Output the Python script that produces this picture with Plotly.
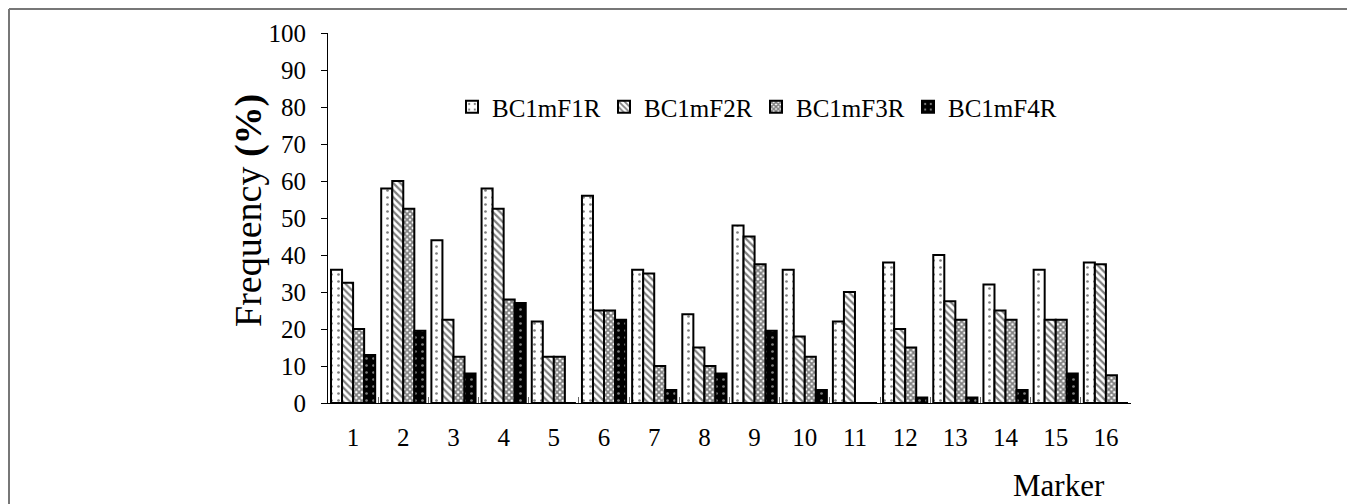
import plotly.graph_objects as go

markers = [str(i) for i in range(1, 17)]
series_names = ["BC1mF1R", "BC1mF2R", "BC1mF3R", "BC1mF4R"]
f1 = [36, 58, 44, 58, 22, 56, 36, 24, 48, 36, 22, 38, 40, 32, 36, 38]
f2 = [32.5, 60, 22.5, 52.5, 12.5, 25, 35, 15, 45, 18, 30, 20, 27.5, 25, 22.5, 37.5]
f3 = [20, 52.5, 12.5, 28, 12.5, 25, 10, 10, 37.5, 12.5, 0, 15, 22.5, 22.5, 22.5, 7.5]
f4 = [13, 19.5, 8, 27, 0, 22.5, 3.5, 8, 19.5, 3.5, 0, 1.5, 1.5, 3.5, 8, 0]
y_ticks = list(range(0, 101, 10))

patterns = [
    dict(shape=".", bgcolor="white", fgcolor="black", size=7, solidity=0.12),
    dict(shape="\\", bgcolor="white", fgcolor="black", size=5, solidity=0.45),
    dict(shape="x", bgcolor="white", fgcolor="black", size=4, solidity=0.7),
    dict(shape=".", bgcolor="black", fgcolor="white", size=7, solidity=0.12),
]

fig = go.Figure()
for name, vals, pat in zip(series_names, [f1, f2, f3, f4], patterns):
    fig.add_trace(go.Bar(
        x=markers, y=vals, name=name,
        marker=dict(color=pat["bgcolor"], pattern=pat,
                    line=dict(color="black", width=2)),
    ))

OFF = 8  # page body margin
L, R, T, B = 328 - OFF, 1131 - OFF, 33 - OFF, 403 - OFF
W, H = 1355 - OFF, 504 - OFF
pw, ph = R - L, B - T

def px_x(px):
    return (px - OFF - L) / pw

def px_y(py):
    return (B - (py - OFF)) / ph

fig.update_layout(
    width=W, height=H,
    margin=dict(l=L, r=W - R, t=T, b=H - B, autoexpand=False),
    paper_bgcolor="white", plot_bgcolor="white",
    barmode="group", bargap=0.12, bargroupgap=0,
    font=dict(family="Liberation Serif", color="black"),
    showlegend=True,
    legend=dict(orientation="h", x=px_x(452), y=px_y(107), xanchor="left", yanchor="middle",
                font=dict(size=25, family="Liberation Serif"),
                bgcolor="rgba(0,0,0,0)", itemwidth=30, traceorder="normal",
                entrywidth=107, entrywidthmode="pixels"),
    xaxis=dict(type="category", showline=True, linecolor="black", linewidth=1,
               ticks="inside", tickson="boundaries", ticklen=6, tickcolor="#666",
               tickfont=dict(size=25), ticklabelstandoff=12, showgrid=False, zeroline=False),
    yaxis=dict(range=[0, 100], tickvals=y_ticks, showline=True, linecolor="black", linewidth=1,
               ticks="outside", ticklen=6, tickcolor="black", tickfont=dict(size=25),
               ticklabelstandoff=10, showgrid=False, zeroline=False, fixedrange=True),
)

fig.add_annotation(text="Frequency <b>(%)</b>", textangle=-90, xref="paper", yref="paper",
                   x=px_x(248), y=px_y(211), xanchor="center", yanchor="middle",
                   showarrow=False, font=dict(size=38))
fig.add_annotation(text="Marker", xref="paper", yref="paper", x=px_x(1059), y=px_y(485),
                   xanchor="center", yanchor="middle", showarrow=False, font=dict(size=31))

# outer frame lines (top and left)
fig.add_shape(type="line", xref="paper", yref="paper", x0=px_x(9), x1=px_x(1355),
              y0=px_y(9), y1=px_y(9), line=dict(color="#777", width=2))
fig.add_shape(type="line", xref="paper", yref="paper", x0=px_x(9), x1=px_x(9),
              y0=px_y(9), y1=px_y(504), line=dict(color="#777", width=2))

fig.write_html("out.html")
